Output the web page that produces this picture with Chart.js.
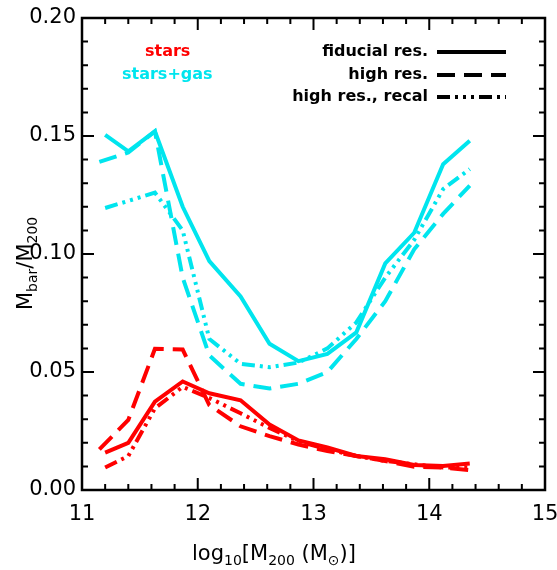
<!DOCTYPE html>
<html>
<head>
<meta charset="utf-8">
<script src="https://cdn.jsdelivr.net/npm/chart.js@4.4.0/dist/chart.umd.min.js"></script>
<style>
  html, body { margin: 0; padding: 0; background: #fff; }
  #wrap { width: 557px; height: 570px; }
</style>
</head>
<body>
<div id="wrap"><canvas id="c"></canvas></div>
<script>
// ---- data ----
const massX = [11.2, 11.4, 11.63, 11.87, 12.1, 12.37, 12.62, 12.87, 13.12, 13.37, 13.62, 13.87, 14.12, 14.35];
const massXHigh = [11.15, 11.4, 11.63, 11.87, 12.1, 12.37, 12.62, 12.87, 13.12, 13.37, 13.62, 13.87, 14.12, 14.35];

const gasFiducial = [0.1505, 0.1435, 0.152, 0.12, 0.097, 0.082, 0.062, 0.0546, 0.0577, 0.0668, 0.096, 0.109, 0.138, 0.148];
const gasHigh     = [0.139, 0.143, 0.152, 0.09, 0.057, 0.045, 0.043, 0.045, 0.050, 0.064, 0.080, 0.102, 0.117, 0.129];
const gasRecal    = [0.1195, 0.1225, 0.126, 0.11, 0.064, 0.0535, 0.052, 0.054, 0.060, 0.071, 0.090, 0.106, 0.1275, 0.136];

const starsFiducial = [0.0158, 0.020, 0.0374, 0.046, 0.041, 0.038, 0.0277, 0.021, 0.018, 0.0144, 0.013, 0.0106, 0.0102, 0.0112];
const starsHigh     = [0.0172, 0.0297, 0.0598, 0.0595, 0.036, 0.027, 0.0228, 0.0193, 0.0165, 0.0144, 0.0123, 0.0098, 0.0095, 0.0084];
const starsRecal    = [0.0095, 0.0144, 0.0346, 0.0437, 0.039, 0.0325, 0.0263, 0.0207, 0.0172, 0.0144, 0.0123, 0.0109, 0.0095, 0.0095];

const xTicks = [11, 12, 13, 14, 15];
const yTicks = [0.00, 0.05, 0.10, 0.15, 0.20];

const RED = '#ff0000', CYAN = '#00e5ee';
const DASH = [18, 9];
const DASHDOT = [13, 5, 3, 5, 3, 5, 3, 5];

function pts(xs, ys){ return ys.map((v, i) => ({x: xs[i], y: v})); }
function series(xs, ys, color, dash){
    return { data: pts(xs, ys), borderColor: color, borderWidth: 4, borderDash: dash,
             pointRadius: 0, fill: false, tension: 0 };
}

const FONT = '"DejaVu Sans", sans-serif';

// draws frame, inward ticks, labels, legend
const decor = {
    id: 'decor',
    afterDraw(chart){
        const ctx = chart.ctx, a = chart.chartArea;
        const xs = chart.scales.x, ys = chart.scales.y;
        ctx.save();
        ctx.strokeStyle = '#000'; ctx.lineWidth = 2.5;
        ctx.strokeRect(a.left, a.top, a.right - a.left, a.bottom - a.top);
        ctx.lineWidth = 2;
        for (let i = 0; i <= 20; i++){
            const px = xs.getPixelForValue(11 + i * 0.2);
            const L = (i % 5 === 0) ? 12 : 6;
            ctx.beginPath();
            ctx.moveTo(px, a.bottom); ctx.lineTo(px, a.bottom - L);
            ctx.moveTo(px, a.top); ctx.lineTo(px, a.top + L);
            ctx.stroke();
        }
        for (let i = 0; i <= 20; i++){
            const py = ys.getPixelForValue(i * 0.01);
            const L = (i % 5 === 0) ? 12 : 6;
            ctx.beginPath();
            ctx.moveTo(a.left, py); ctx.lineTo(a.left + L, py);
            ctx.moveTo(a.right, py); ctx.lineTo(a.right - L, py);
            ctx.stroke();
        }
        ctx.fillStyle = '#000';
        ctx.font = '21px ' + FONT;
        ctx.textAlign = 'center'; ctx.textBaseline = 'top';
        xTicks.forEach(v => ctx.fillText(String(v), xs.getPixelForValue(v), a.bottom + 14));
        ctx.textAlign = 'right'; ctx.textBaseline = 'middle';
        yTicks.forEach(v => ctx.fillText(v.toFixed(2), a.left - 6, ys.getPixelForValue(v)));

        // x title: log10[M200 (M☉)]
        ctx.textAlign = 'left'; ctx.textBaseline = 'alphabetic';
        let x = 192, y = 560;
        const seg = (t, size, dy) => { ctx.font = size + 'px ' + FONT; ctx.fillText(t, x, y + dy); x += ctx.measureText(t).width; };
        seg('log', 21, 0); seg('10', 14, 5); seg('[M', 21, 0); seg('200', 14, 5); seg(' (M', 21, 0); seg('\u2299', 14, 5); seg(')]', 21, 0);

        // y title rotated: Mbar/M200
        ctx.save();
        ctx.translate(32, 255); ctx.rotate(-Math.PI / 2);
        x = -55; y = 0;
        seg('M', 21, 0); seg('bar', 14, 5); seg('/M', 21, 0); seg('200', 14, 5);
        ctx.restore();

        // legend
        ctx.font = 'bold 16px ' + FONT; ctx.textBaseline = 'middle';
        ctx.textAlign = 'left';
        ctx.fillStyle = RED; ctx.fillText('stars', 145, 52);
        ctx.fillStyle = CYAN; ctx.fillText('stars+gas', 122, 75);
        ctx.fillStyle = '#000'; ctx.textAlign = 'right';
        const rows = [['fiducial res.', [], 52], ['high res.', DASH, 75], ['high res., recal', DASHDOT, 97]];
        rows.forEach(r => {
            ctx.fillText(r[0], 428, r[2]);
            ctx.beginPath(); ctx.setLineDash(r[1]); ctx.lineWidth = 4;
            ctx.moveTo(437, r[2]); ctx.lineTo(506, r[2]); ctx.stroke();
        });
        ctx.restore();
    }
};

new Chart(document.getElementById('c'), {
    type: 'line',
    data: {
        datasets: [
            series(massX, gasFiducial, CYAN, []),
            series(massXHigh, gasHigh, CYAN, DASH),
            series(massX, gasRecal, CYAN, DASHDOT),
            series(massX, starsFiducial, RED, []),
            series(massXHigh, starsHigh, RED, DASH),
            series(massX, starsRecal, RED, DASHDOT)
        ]
    },
    options: {
        responsive: true, maintainAspectRatio: false, animation: false,
        layout: { padding: { left: 82, top: 18, right: 12, bottom: 80 } },
        plugins: { legend: { display: false }, tooltip: { enabled: false } },
        scales: {
            x: { type: 'linear', min: 11, max: 15, display: false },
            y: { min: 0, max: 0.2, display: false }
        }
    },
    plugins: [decor]
});
</script>
</body>
</html>
